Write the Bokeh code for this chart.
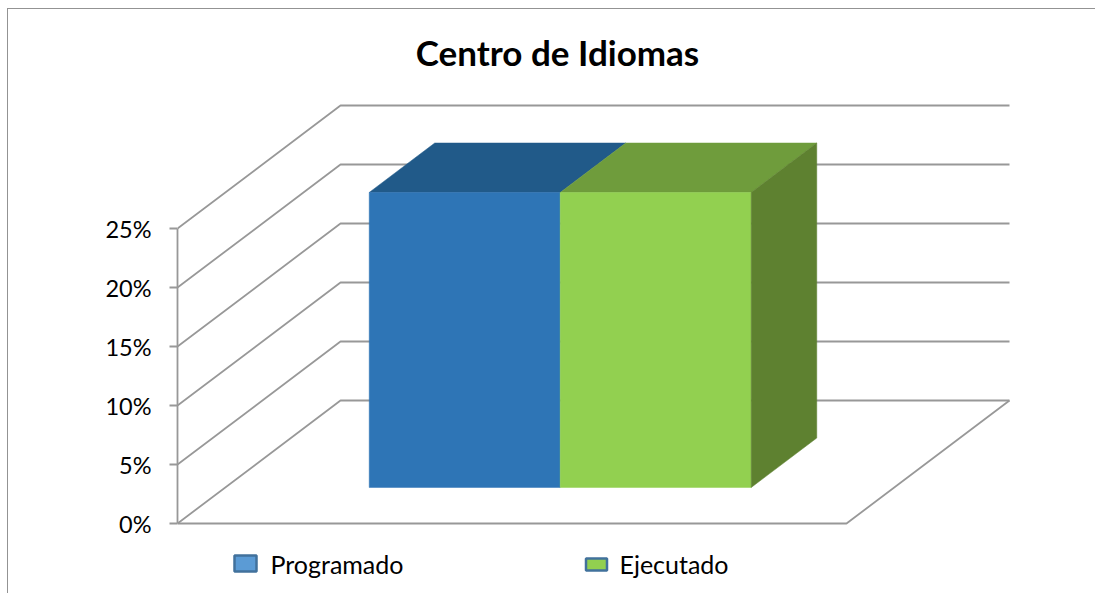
from bokeh.plotting import figure
from bokeh.models import Range1d, FixedTicker, NumeralTickFormatter, LinearAxis
from bokeh.core.properties import value
from bokeh.embed import file_html
from bokeh.resources import INLINE

title = "Centro de Idiomas"
series = ["Programado", "Ejecutado"]
values = [0.25, 0.25]
ticks = [0, 0.05, 0.10, 0.15, 0.20, 0.25]

front_colors = ["#2E75B6", "#92D050"]
top_colors = ["#215A89", "#6F9C3C"]
side_color = "#5E8130"
legend_fill = ["#5B9BD5", "#92D050"]
legend_edge = "#41719C"
grid = "#989898"
FONT = "Lato"

W, H = 1088, 585
LEFT = 169
PX_X = 669.0     # pixels per unit of the category axis
PX_Y = 1180.0    # pixels per 100 %
BASE = 71.0      # 0 % above the frame bottom
DX, DY = 163.0 / PX_X, 123.0 / PX_Y   # oblique depth offset

def proj(x, y, z):
    return x + z * DX, y + z * DY

def px(page_x, page_y):
    """Page pixel position to data coordinates, for layout items only."""
    return (page_x - 8 - LEFT) / PX_X, (594 - page_y - BASE) / PX_Y

p = figure(width=W, height=H, output_backend="svg", toolbar_location=None,
           x_range=Range1d(0, (W - LEFT) / PX_X),
           y_range=Range1d(-BASE / PX_Y, (H - BASE) / PX_Y),
           min_border_left=LEFT, min_border_right=0, min_border_top=0, min_border_bottom=0,
           x_axis_location=None, y_axis_location=None, outline_line_color=None)
p.styles = {"border-left": "1.5px solid #939393", "border-top": "1.5px solid #939393",
            "margin-left": "7px", "margin-top": "8px"}
p.xgrid.visible = False
p.ygrid.visible = False

# Value axis
ax = LinearAxis(ticker=FixedTicker(ticks=ticks), formatter=NumeralTickFormatter(format="0%"),
                bounds=(0, max(ticks)), axis_line_color=grid, axis_line_width=1.8,
                major_tick_line_color=grid, major_tick_line_width=1.8,
                major_tick_out=8, major_tick_in=0, minor_tick_line_color=None,
                major_label_standoff=18, major_label_text_font=FONT,
                major_label_text_font_size="23.5px", major_label_text_color="#000000")
p.add_layout(ax, "left")

# Wall grid lines and floor
xs, ys = [], []
for t in ticks:
    pts = [proj(0, t, 0), proj(0, t, 1), proj(1, t, 1)]
    xs.append([q[0] for q in pts]); ys.append([q[1] for q in pts])
floor = [proj(0, 0, 0), proj(1, 0, 0), proj(1, 0, 1)]
xs.append([q[0] for q in floor]); ys.append([q[1] for q in floor])
p.multi_line(xs, ys, line_color=grid, line_width=1.8)

# Bars
x0 = 0.2152; bw = 0.2855; z0, z1 = 0.293, 0.695
for i, v in enumerate(values):
    a, b = x0 + i * bw, x0 + (i + 1) * bw
    front = [proj(a, 0, z0), proj(b, 0, z0), proj(b, v, z0), proj(a, v, z0)]
    top = [proj(a, v, z0), proj(b, v, z0), proj(b, v, z1), proj(a, v, z1)]
    p.patch([q[0] for q in top], [q[1] for q in top], fill_color=top_colors[i], line_color=top_colors[i], line_width=0.5)
    p.patch([q[0] for q in front], [q[1] for q in front], fill_color=front_colors[i], line_color=front_colors[i], line_width=0.5)
    if i == len(values) - 1:
        side = [proj(b, 0, z0), proj(b, 0, z1), proj(b, v, z1), proj(b, v, z0)]
        p.patch([q[0] for q in side], [q[1] for q in side], fill_color=side_color, line_color=side_color, line_width=0.5)

# Title
tx, ty = px(557, 51)
p.text([tx], [ty], text=[title], text_font=value(FONT), text_font_style="bold",
       text_font_size="35px", text_align="center", text_baseline="middle", text_color="#000000")

# Legend
swatches = [(245, 563, 22, 16), (596, 564, 21, 12)]
labels = [(270, 563), (619, 563)]
for i, name in enumerate(series):
    sx, sy, sw, sh = swatches[i]
    dx_, dy_ = px(sx, sy)
    p.rect([dx_], [dy_], width=sw, height=sh, width_units="screen", height_units="screen",
           fill_color=legend_fill[i], line_color=legend_edge, line_width=2.5)
    lx, ly = px(*labels[i])
    p.text([lx], [ly], text=[name], text_font=value(FONT), text_font_size="25px",
           text_align="left", text_baseline="middle", text_color="#000000")

open("out.html", "w").write(file_html(p, INLINE))
